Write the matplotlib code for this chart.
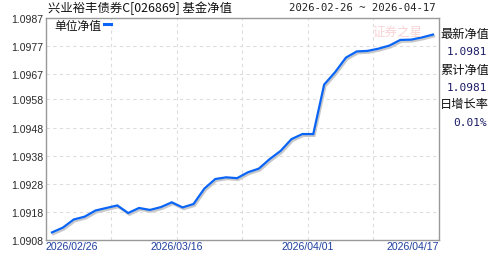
import matplotlib
matplotlib.use("Agg")
import matplotlib.pyplot as plt
import matplotlib.transforms as mtransforms

plt.rcParams['font.family'] = ['Noto Sans CJK SC', 'DejaVu Sans']

title = "兴业裕丰债券C[026869] 基金净值"
date_range = "2026-02-26 ~ 2026-04-17"
legend_label = "单位净值"
x_tick_labels = ["2026/02/26", "2026/03/16", "2026/04/01", "2026/04/17"]
y_ticks = [1.0908, 1.0918, 1.0928, 1.0938, 1.0948, 1.0958, 1.0967, 1.0977, 1.0987]
side_labels = ["最新净值", "累计净值", "日增长率"]
side_values = ["1.0981", "1.0981", "0.01%"]

nav = [1.09107, 1.09124, 1.09153, 1.09163, 1.09185, 1.09194, 1.09203, 1.09176,
       1.09194, 1.09187, 1.09197, 1.09214, 1.09196, 1.09208, 1.09263, 1.09297,
       1.09303, 1.09300, 1.09321, 1.09334, 1.09368, 1.09397, 1.09439, 1.09457,
       1.09457, 1.09633, 1.09677, 1.09729, 1.09751, 1.09753, 1.09761, 1.09772,
       1.09792, 1.09793, 1.09801, 1.09811]

W, H = 488, 255
fig = plt.figure(figsize=(W / 100, H / 100), dpi=100)
fig.patch.set_facecolor('white')

L, R, T, B = 46, 439, 19, 241
ax = fig.add_axes([L / W, (H - B) / H, (R - L) / W, (B - T) / H])

n = len(nav)
xs = list(range(n))
pad = 0.55
ax.set_xlim(-pad, n - 1 + pad)
ax.set_ylim(y_ticks[0], y_ticks[-1])

# shadow
shadow_tr = mtransforms.offset_copy(ax.transData, fig=fig, x=1.2, y=-1.8, units='dots')
ax.plot(xs, nav, color='#c8c8c8', lw=1.6, transform=shadow_tr, solid_joinstyle='miter', zorder=2)
ax.plot(xs, nav, color='#0a64f5', lw=1.6, solid_joinstyle='miter', zorder=3)

# grid
ax.set_yticks(y_ticks)
ax.set_yticklabels([f"{v:.4f}" for v in y_ticks], family='Liberation Sans', fontsize=7.6, color='#2a2a2a')
xmin, xmax = ax.get_xlim()
grid_x = [xmin + (xmax - xmin) * k / 6 for k in range(1, 6)]
for gx in grid_x:
    ax.axvline(gx, color='#dddddd', lw=0.8, ls=(0, (3, 3)), zorder=1)
for gy in y_ticks[1:-1]:
    ax.axhline(gy, color='#dddddd', lw=0.8, ls=(0, (3, 3)), zorder=1)

label_pos = [xmin, xmin + (xmax - xmin) * 2 / 6, xmin + (xmax - xmin) * 4 / 6, xmax]
ax.set_xticks([])
ax.tick_params(axis='y', length=0, pad=2)
aligns = ['left', 'center', 'center', 'right']
for xp, lab, ha in zip(label_pos, x_tick_labels, aligns):
    ax.text(xp, -0.005, lab, transform=ax.get_xaxis_transform(), ha=ha, va='top',
            family='Liberation Sans', fontsize=7.6, color='#1f3f9f')

for s in ax.spines.values():
    s.set_color('#999999')
    s.set_linewidth(1.0)

# title and date range
fig.text(48 / W, 1 - 8 / H, title, ha='left', va='center', fontsize=8.9, color='#111111')
fig.text(436 / W, 1 - 8 / H, date_range, ha='right', va='center', fontsize=7.7, color='#222222',
         family='DejaVu Sans Mono')

# legend
fig.text(54 / W, 1 - 26 / H, legend_label, ha='left', va='center', fontsize=8.5, color='#111111')
fig.add_artist(plt.Line2D([104 / W, 111 / W], [1 - 25 / H, 1 - 25 / H], color='#0a64f5', lw=2.2,
                          transform=fig.transFigure))

# watermark
fig.text(397 / W, 1 - 32 / H, "证券之星", ha='center', va='center', fontsize=9, color='#f7c9cc',
         style='italic', alpha=0.8)

# side panel
ys_lab = [34, 70, 105]
for yl, lab, val in zip(ys_lab, side_labels, side_values):
    fig.text(440 / W, 1 - yl / H, lab, ha='left', va='center', fontsize=8.8, color='#111111')
    fig.text(487 / W, 1 - (yl + 18) / H, val, ha='right', va='center', fontsize=8,
             family='DejaVu Sans Mono', color='#1a1a66')

fig.savefig('out.png', dpi=100, facecolor='white')
